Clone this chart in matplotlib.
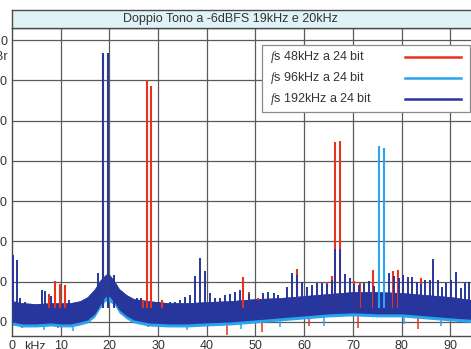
import numpy as np
import matplotlib
matplotlib.use('Agg')
import matplotlib.pyplot as plt
from matplotlib.patches import Rectangle
from matplotlib.lines import Line2D

# colours of the three traces
col_48 = '#e8321c'
col_96 = '#2aa4ee'
col_192 = '#27369c'

labels = [r'$\mathit{f}$s 48kHz a 24 bit', r'$\mathit{f}$s 96kHz a 24 bit', r'$\mathit{f}$s 192kHz a 24 bit']
title = 'Doppio Tono a -6dBFS 19kHz e 20kHz'
x_ticks = [0, 10, 20, 30, 40, 50, 60, 70, 80, 90]
y_ticks = [0, -20, -40, -60, -80, -100, -120, -140]

# noise floor envelope (kHz, dBr)
floor_f = [0, 2, 5, 8, 10, 12, 14, 15.5, 17, 18, 19, 19.5, 20, 21, 22, 23.5, 25, 28, 32, 36, 40, 45, 50, 55, 60, 65, 70, 75, 80, 85, 90, 96]
floor_hi_192 = [-129.5, -130.5, -131, -130.5, -130.5, -130.5, -129.5, -127.5, -123.5, -119.5, -117, -116, -116.5, -119.5, -123.5, -126.5, -128.5, -129.5, -130.5, -130.5, -130, -129.5, -128.5, -128, -127, -126, -125, -125, -125.5, -126.5, -127.5, -129.5]
floor_lo_192 = [-140, -141, -141, -140.5, -141, -141, -140, -139, -136, -132, -128, -127, -127.5, -130, -134, -137, -139, -140.5, -141, -141, -140.5, -140, -139, -138, -137, -136, -135.5, -136, -136, -137, -138, -139]
floor_lo_96 = [-141.5, -142.5, -142.5, -142, -142.5, -142.5, -141.5, -140.5, -137.5, -133.5, -130, -129.5, -130, -131.5, -135.5, -138.5, -140.5, -142, -142.5, -142.5, -142, -141.5, -140.5, -139.5, -138.5, -137.5, -137, -137.5, -137.5, -138.5, -139.5, -140.5]
floor_lo_48 = [-141, -142, -142, -141.5, -142, -142, -141, -140, -137, -133, -129.5, -129, -129.5, -131, -135, -138, -140, -141.5, -142, -142, -141.5, -141, -140, -139, -138, -137, -136.5, -137, -137, -138, -139, -140]

# spectral lines (kHz, dBr)
spur_f_48 = [18.7, 19.8, 7.6, 8.8, 9.8, 10.9, 26.9, 27.7, 28.6, 30.8, 47.5, 48.6, 50.6, 58.5, 64.6, 65.7, 66.4, 67.3, 70.2, 71.4, 74.2, 78.3, 79.3, 83.9]
spur_v_48 = [-6.3, -6.3, -126, -119.5, -121, -121.5, -129, -20, -23, -129, -117.5, -125, -128, -113.5, -120, -117, -50.5, -50, -119.5, -120.5, -114.2, -114.5, -114.2, -118.3]
dip_f_48 = [44.2, 51.3, 83.4, 9.5, 28.0, 71.0, 2.0, 61.0]
dip_v_48 = [-146.5, -144.8, -143.5, -143, -142.5, -143, -143, -142]

spur_f_96 = [18.7, 19.8, 75.3, 76.3]
spur_v_96 = [-6.3, -6.3, -52.6, -53.8]
dip_f_96 = [6.5, 12.5, 36.0, 47.0, 55.0, 64.0, 80.5, 88.0]
dip_v_96 = [-144, -144.5, -144, -143.5, -142.5, -142, -141, -142]

spur_f_192 = [0.3, 1.0, 1.7, 2.7, 3.5, 4.5, 6.1, 6.8, 8.0, 11.8, 13.0, 14.0, 15.2, 16.4, 17.6, 18.7, 19.8, 20.9, 22.0, 23.0, 24.5,
              25.6, 26.5, 30.1, 31.5, 32.5, 33.5, 34.5, 35.5, 36.6, 37.6, 38.6, 39.6, 40.7, 41.7, 42.7, 43.8, 44.8, 45.8, 46.8,
              48.6, 49.6, 50.6, 51.6, 52.6, 53.7, 54.7, 55.6, 56.4, 57.5, 58.5, 59.5, 60.5, 61.6, 62.6, 63.6, 64.6, 65.7, 66.4, 67.3,
              68.4, 69.4, 70.3, 71.3, 72.3, 73.4, 74.4, 77.5, 78.5, 79.4, 80.3, 81.3, 82.2, 83.1, 84.0, 84.9, 85.8, 86.4, 87.4,
              88.3, 89.2, 90.1, 91.2, 92.2, 93.0, 93.9]
spur_v_192 = [-107, -109, -128.3, -130, -131, -132, -124, -124.5, -127, -129, -131, -130, -129, -127, -115.7, -6.3, -6.3, -116.7, -124, -127, -130,
              -128, -128, -130, -131, -130, -130, -129, -127.5, -126.6, -117.2, -108.4, -114.8, -125.7, -128.3, -128, -126.8, -126, -125, -124,
              -126, -129, -129, -125.8, -125, -125.5, -126.6, -128.3, -122.5, -115.5, -116.5, -120, -122.5, -121.7, -120.5, -120.5, -121, -119, -104, -104,
              -116, -118, -121, -121.5, -120.5, -119.5, -122, -115.8, -117, -118, -116.7, -117.5, -117.5, -120, -121, -119, -119.2, -108.6, -119.2,
              -122.5, -120.8, -119.2, -115, -123.3, -120.8, -120]

plt.rcParams.update({
    'font.family': ['Liberation Sans', 'DejaVu Sans'],
    'font.size': 9,
    'mathtext.fontset': 'custom',
    'mathtext.it': 'Liberation Serif:italic',
    'mathtext.rm': 'Liberation Sans',
    'mathtext.bf': 'Liberation Sans:bold',
})

W, H = 471, 349
fig = plt.figure(figsize=(W / 100, H / 100), dpi=100)
fig.patch.set_facecolor('white')
text_col = '#333333'

# main axes (pixel layout of the scan)
x_left, x_right = 12, 12 + 96 * 4.87
y_top, y_bot = 28, 336
ax = fig.add_axes([x_left / W, 1 - y_bot / H, (x_right - x_left) / W, (y_bot - y_top) / H])
ax.set_xlim(0, 96)
ax.set_ylim(-147, 6)

grid_col = '#5a5a5a'
for xv in x_ticks[1:]:
    ax.axvline(xv, color=grid_col, lw=0.9, zorder=0)
for yv in y_ticks:
    ax.axhline(yv, color=grid_col, lw=0.9, zorder=0)

# noise floors
ax.fill_between(floor_f, floor_lo_48, floor_hi_192, color=col_48, lw=0, zorder=1)
ax.fill_between(floor_f, floor_lo_96, floor_hi_192, color=col_96, lw=0, zorder=2)
ax.fill_between(floor_f, floor_lo_192, floor_hi_192, color=col_192, lw=0, zorder=3)

base = -133
ax.vlines(dip_f_48, dip_v_48, -136, color=col_48, lw=1.1, zorder=1.5)
ax.vlines(dip_f_96, dip_v_96, -136, color=col_96, lw=1.1, zorder=2.5)
ax.vlines(spur_f_48, base, spur_v_48, color=col_48, lw=1.5, zorder=4)
ax.vlines(spur_f_96, base, spur_v_96, color=col_96, lw=1.5, zorder=5)
ax.vlines(spur_f_192, base, spur_v_192, color=col_192, lw=1.4, zorder=6)

ax.set_xticks(x_ticks)
ax.set_xticklabels([str(v) for v in x_ticks])
ax.set_yticks(y_ticks)
ax.set_yticklabels([str(v) for v in y_ticks])
ax.tick_params(length=0, pad=3, colors=text_col, labelsize=9)
ax.text(4.8, -149.3, 'kHz', ha='center', va='top', fontsize=9, color=text_col, clip_on=False)
fig.text(8 / W, 1 - 57 / H, 'dBr', ha='right', va='center', fontsize=9, color=text_col)

for s in ax.spines.values():
    s.set_color('#4a4a4a')
    s.set_linewidth(1.0)

# legend box, texts left-aligned and lines on the right
fig.add_artist(Rectangle((262 / W, 1 - 112 / H), 208 / W, 67 / H, transform=fig.transFigure,
                         facecolor='white', edgecolor='#8c8c8c', lw=0.9, zorder=10))
for i, (lab, c) in enumerate(zip(labels, (col_48, col_96, col_192))):
    yy = 1 - (57 + 21 * i) / H
    fig.text(270 / W, yy, lab, ha='left', va='center', fontsize=9, color=text_col, zorder=11)
    fig.add_artist(Line2D([405 / W, 461 / W], [yy, yy], color=c, lw=1.8,
                          transform=fig.transFigure, zorder=11))

# title band
tax = fig.add_axes([x_left / W, 1 - y_top / H, (x_right - x_left) / W, 18 / H])
tax.set_facecolor('#dff2f6')
tax.set_xticks([])
tax.set_yticks([])
for s in tax.spines.values():
    s.set_color('#4a4a4a')
    s.set_linewidth(1.0)
fig.text(230 / W, 1 - 19 / H, title, ha='center', va='center', fontsize=9, color=text_col)

fig.savefig('out.png', dpi=100)
